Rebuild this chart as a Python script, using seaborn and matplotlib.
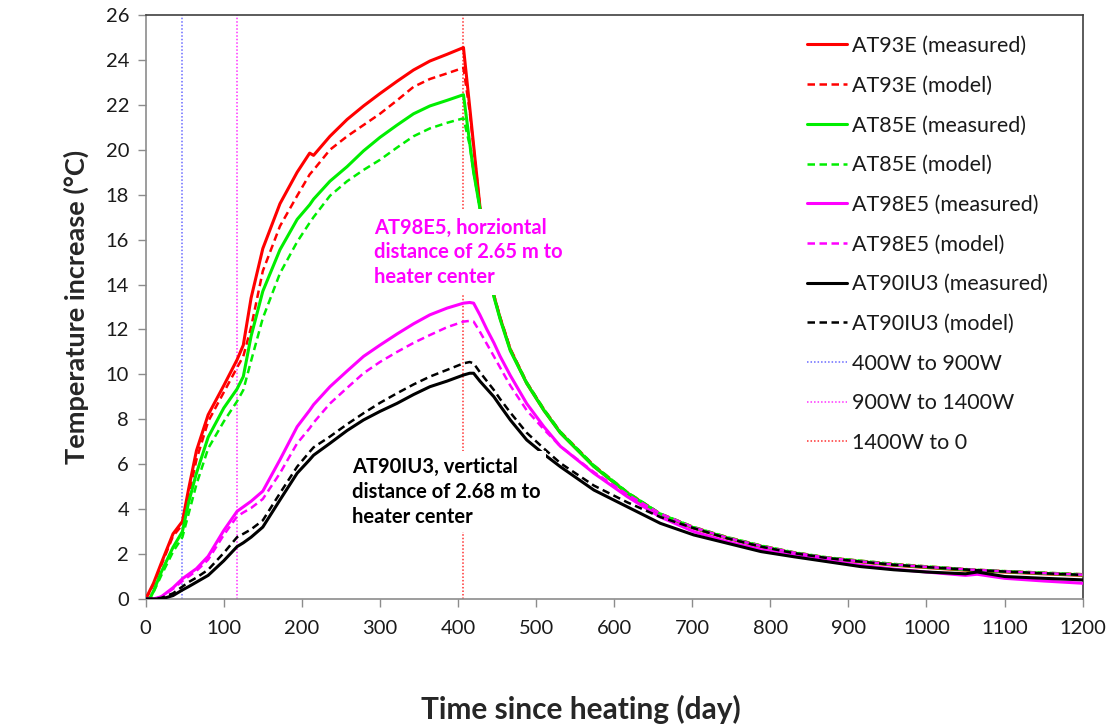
import matplotlib
matplotlib.use("Agg")
import matplotlib.pyplot as plt
import seaborn as sns
import pandas as pd

# ---------------- data ----------------
days = [0, 5, 10, 20, 35, 47, 55, 65, 80, 100, 117, 125, 135, 150, 172, 194, 210, 215,
        236, 258, 279, 300, 322, 343, 364, 386, 407, 415, 420, 428, 437, 446, 454, 467,
        488, 510, 531, 574, 617, 659, 702, 745, 788, 830, 873, 916, 958, 1000, 1050,
        1065, 1100, 1150, 1200]

at93e_measured = [0, 0.35, 0.7, 1.6, 2.9, 3.45, 4.9, 6.6, 8.2, 9.5, 10.65, 11.3, 13.4, 15.6,
                  17.6, 19.0, 19.85, 19.75, 20.6, 21.35, 21.95, 22.5, 23.05, 23.55, 23.95,
                  24.25, 24.55, 21.9, 20.2, 17.5, 15.5, 13.5, 12.5, 11.1, 9.6, 8.4, 7.4,
                  5.9, 4.7, 3.75, 3.15, 2.7, 2.33, 2.03, 1.8, 1.65, 1.5, 1.4, 1.28, 1.25,
                  1.2, 1.12, 1.05]
at93e_model = [0, 0.3, 0.65, 1.5, 2.8, 3.3, 4.6, 6.2, 7.9, 9.2, 10.3, 10.8, 12.1, 14.6,
               16.6, 17.95, 18.9, 19.1, 20.0, 20.6, 21.1, 21.6, 22.2, 22.8, 23.15, 23.4,
               23.65, 21.7, 20.1, 17.5, 15.5, 13.55, 12.55, 11.15, 9.65, 8.45, 7.45, 5.95,
               4.75, 3.8, 3.2, 2.75, 2.38, 2.08, 1.85, 1.7, 1.56, 1.45, 1.33, 1.3, 1.24,
               1.17, 1.1]
at85e_measured = [0, 0, 0.35, 1.2, 2.3, 3.0, 4.3, 5.6, 7.2, 8.5, 9.35, 9.9, 11.7, 13.7,
                  15.55, 16.9, 17.55, 17.8, 18.6, 19.25, 19.95, 20.55, 21.1, 21.6, 21.95,
                  22.2, 22.45, 20.3, 19.0, 17.4, 15.4, 13.45, 12.45, 11.05, 9.6, 8.4, 7.4,
                  5.9, 4.72, 3.78, 3.17, 2.72, 2.35, 2.05, 1.82, 1.67, 1.52, 1.42, 1.3,
                  1.27, 1.22, 1.14, 1.07]
at85e_model = [0, 0, 0.3, 1.05, 2.1, 2.75, 3.8, 5.1, 6.7, 7.9, 8.8, 9.3, 10.6, 12.5,
               14.5, 15.9, 16.75, 17.0, 17.95, 18.6, 19.1, 19.55, 20.1, 20.6, 20.95, 21.2,
               21.4, 20.2, 19.0, 17.4, 15.45, 13.5, 12.5, 11.1, 9.65, 8.45, 7.45, 5.95,
               4.75, 3.8, 3.2, 2.75, 2.38, 2.08, 1.85, 1.7, 1.56, 1.45, 1.33, 1.3, 1.24,
               1.17, 1.1]
at98e5_measured = [0, 0, 0, 0.1, 0.5, 0.9, 1.1, 1.35, 1.9, 3.05, 3.9, 4.1, 4.35, 4.8, 6.2,
                   7.67, 8.4, 8.65, 9.45, 10.15, 10.8, 11.3, 11.8, 12.25, 12.65, 12.95,
                   13.17, 13.2, 13.17, 12.65, 12.0, 11.4, 10.8, 9.95, 8.7, 7.67, 6.8, 5.6,
                   4.55, 3.65, 3.0, 2.55, 2.2, 1.95, 1.72, 1.5, 1.33, 1.2, 1.05, 1.1, 0.92,
                   0.8, 0.7]
at98e5_model = [0, 0, 0, 0.1, 0.45, 0.8, 1.0, 1.25, 1.75, 2.85, 3.67, 3.85, 4.05, 4.45,
                5.6, 6.93, 7.6, 7.85, 8.7, 9.4, 10.05, 10.55, 11.0, 11.4, 11.75, 12.1,
                12.35, 12.38, 12.35, 11.9, 11.35, 10.8, 10.3, 9.5, 8.4, 7.55, 6.8, 5.65,
                4.65, 3.8, 3.18, 2.72, 2.36, 2.06, 1.83, 1.67, 1.53, 1.43, 1.32, 1.29,
                1.23, 1.15, 1.08]
at90iu3_measured = [0, 0, 0, 0, 0.15, 0.4, 0.55, 0.75, 1.05, 1.7, 2.33, 2.5, 2.75, 3.2,
                    4.41, 5.6, 6.2, 6.4, 6.93, 7.5, 7.97, 8.35, 8.71, 9.1, 9.45, 9.7, 9.97,
                    10.05, 10.05, 9.7, 9.35, 9.0, 8.6, 7.97, 7.08, 6.45, 5.89, 4.85, 4.1,
                    3.37, 2.85, 2.48, 2.11, 1.88, 1.66, 1.44, 1.3, 1.2, 1.12, 1.2, 1.0,
                    0.92, 0.85]
at90iu3_model = [0, 0, 0, 0.05, 0.25, 0.55, 0.75, 0.95, 1.3, 2.05, 2.75, 2.9, 3.1, 3.5,
                 4.71, 5.89, 6.55, 6.75, 7.23, 7.78, 8.27, 8.73, 9.16, 9.55, 9.9, 10.2,
                 10.49, 10.55, 10.49, 10.1, 9.7, 9.3, 8.9, 8.3, 7.4, 6.7, 6.05, 5.05, 4.3,
                 3.65, 3.15, 2.7, 2.33, 2.04, 1.82, 1.66, 1.52, 1.42, 1.31, 1.28, 1.22,
                 1.14, 1.07]

power_change_days = [47, 117, 407]
power_change_labels = ["400W to 900W", "900W to 1400W", "1400W to 0"]
power_change_colors = ["#6a6aff", "#ff30ff", "#ff3030"]

series = [
    ("AT93E (measured)", at93e_measured, "#ff0000", "-"),
    ("AT93E (model)", at93e_model, "#ff0000", "--"),
    ("AT85E (measured)", at85e_measured, "#00ee00", "-"),
    ("AT85E (model)", at85e_model, "#00ee00", "--"),
    ("AT98E5 (measured)", at98e5_measured, "#ff00ff", "-"),
    ("AT98E5 (model)", at98e5_model, "#ff00ff", "--"),
    ("AT90IU3 (measured)", at90iu3_measured, "#000000", "-"),
    ("AT90IU3 (model)", at90iu3_model, "#000000", "--"),
]

# ---------------- plot ----------------
sns.set_style("white")
plt.rcParams["font.family"] = ["Lato", "DejaVu Sans"]

fig = plt.figure(figsize=(11.13, 7.24), dpi=100)
ax = fig.add_axes([0.1309, 0.1727, 0.8418, 0.8066])

for label, vals, color, ls in series:
    df = pd.DataFrame({"day": days, "value": vals})
    if ls == "-":
        sns.lineplot(data=df, x="day", y="value", ax=ax, color=color, lw=2.2,
                     label=label, zorder=3)
    else:
        sns.lineplot(data=df, x="day", y="value", ax=ax, color=color, lw=1.8,
                     label=label, zorder=3, linestyle=(0, (3.0, 1.8)))

for d, lab, c in zip(power_change_days, power_change_labels, power_change_colors):
    ax.axvline(d, color=c, lw=1.1, linestyle=(0, (1.0, 1.3)), label=lab, zorder=2)

ax.set_xlim(0, 1200)
ax.set_ylim(0, 26)
ax.set_xticks(range(0, 1201, 100))
ax.set_yticks(range(0, 27, 2))
ax.tick_params(axis="both", direction="out", length=6, width=1, color="#8c8c8c",
               labelsize=14.5, labelcolor="#1a1a1a", bottom=True, left=True, pad=6)
ax.tick_params(axis="x", pad=9)

for s in ["left", "bottom"]:
    ax.spines[s].set_color("#8c8c8c")
    ax.spines[s].set_linewidth(1.2)
for s in ["top", "right"]:
    ax.spines[s].set_color("#404040")
    ax.spines[s].set_linewidth(1.2)

ax.set_xlabel("Time since heating (day)", fontsize=21.5, fontweight="bold", labelpad=36)
ax.xaxis.set_label_coords(0.465, -0.165)
ax.set_ylabel("Temperature increase (°C)", fontsize=19.5, fontweight="bold", labelpad=12)

ax.text(0.2435, 0.653, "AT98E5, horziontal\ndistance of 2.65 m to\nheater center",
        transform=ax.transAxes, color="#ff00ff", fontsize=14.5, fontweight="bold",
        va="top", ha="left", linespacing=1.3, zorder=5,
        bbox=dict(facecolor="white", edgecolor="none", pad=6))
ax.text(0.2198, 0.243, "AT90IU3, vertictal\ndistance of 2.68 m to\nheater center",
        transform=ax.transAxes, color="#000000", fontsize=14.5, fontweight="bold",
        va="top", ha="left", linespacing=1.3, zorder=5,
        bbox=dict(facecolor="white", edgecolor="none", pad=4))

leg = ax.legend(loc="upper left", bbox_to_anchor=(0.706, 0.964), frameon=False,
                fontsize=15.5, handlelength=1.86, handletextpad=0.2,
                labelspacing=0.915, borderaxespad=0, borderpad=0)
for t in leg.get_texts():
    t.set_color("#1a1a1a")

fig.savefig("out.png", dpi=100)
